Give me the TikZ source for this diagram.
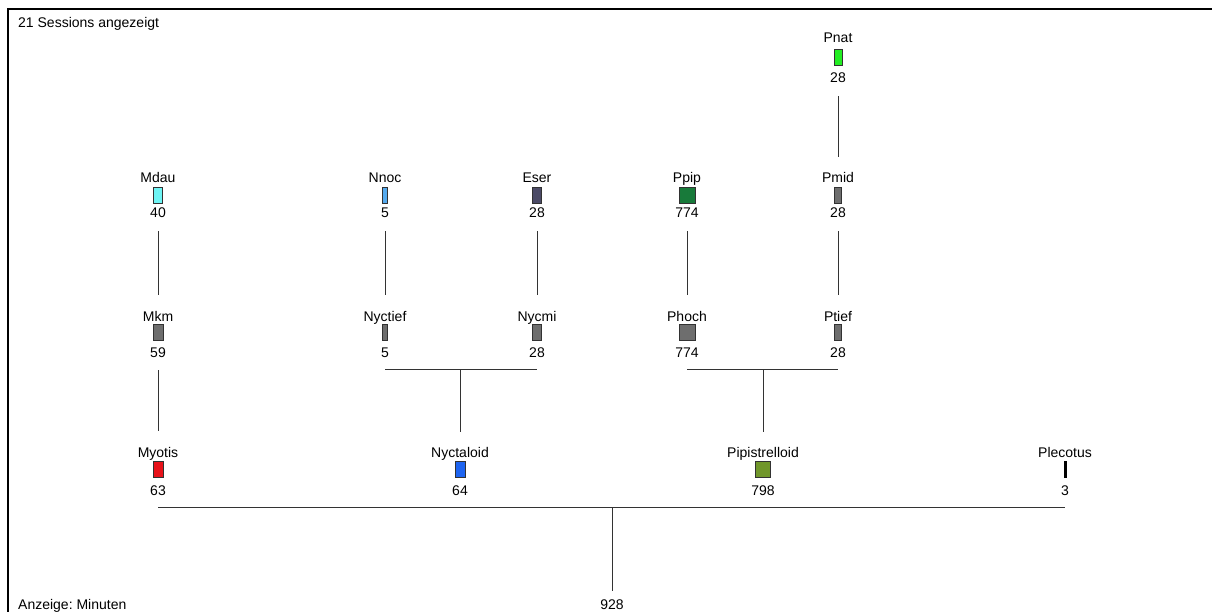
\documentclass[tikz,border=0pt]{standalone}
\usepackage{fontspec}
\setmainfont{Liberation Sans}
\frenchspacing
\definecolor{cMyo}{RGB}{232,18,26}
\definecolor{cNyc}{RGB}{30,100,240}
\definecolor{cPip}{RGB}{112,150,42}
\definecolor{cMdau}{RGB}{110,245,245}
\definecolor{cNnoc}{RGB}{85,170,238}
\definecolor{cEser}{RGB}{75,74,102}
\definecolor{cPpip}{RGB}{24,122,58}
\definecolor{cPnat}{RGB}{34,238,34}
\definecolor{cGray}{RGB}{110,110,110}
\definecolor{cEdge}{RGB}{50,50,50}
\begin{document}
\begin{tikzpicture}[x=1pt,y=-1pt,
  txt/.style={font=\fontsize{14}{16}\selectfont, anchor=base, inner sep=0pt,
              text height=10pt, text depth=0pt, text=black},
  cornertxt/.style={txt, anchor=base west},
  bar/.style={draw=cEdge, line width=0.7pt, inner sep=0pt, minimum height=16pt, minimum width=#1},
  bar/.default=9pt,
  link/.style={draw=black!80, line width=0.8pt},
  vlink/.style={link, shorten <=13pt, shorten >=16pt},
  frame/.style={draw=black, line width=1.3pt}]
\useasboundingbox (0,0) rectangle (1212,612);
\draw[frame] (8,612) -- (8,9) -- (1212,9);

\node[cornertxt] (sessions) at (18,28) {21 Sessions angezeigt};
\node[cornertxt] (anzeige) at (18,609) {Anzeige: Minuten};

% ---- row 1
\node[txt] (pnatL) at (838,43) {Pnat};
\node[bar=8pt, fill=cPnat] (pnat) at (838,57.5) {};
\node[txt] (pnatN) at (838,83) {28};

% ---- row 2
\node[txt] (mdauL) at (158,183) {Mdau};
\node[bar=9.5pt, fill=cMdau] (mdau) at (158,195) {};
\node[txt] (mdauN) at (158,218) {40};

\node[txt] (nnocL) at (385,183) {Nnoc};
\node[bar=5pt, fill=cNnoc] (nnoc) at (385,195) {};
\node[txt] (nnocN) at (385,218) {5};

\node[txt] (eserL) at (537,183) {Eser};
\node[bar=9pt, fill=cEser] (eser) at (537,195) {};
\node[txt] (eserN) at (537,218) {28};

\node[txt] (ppipL) at (687,183) {Ppip};
\node[bar=16pt, fill=cPpip] (ppip) at (687,195) {};
\node[txt] (ppipN) at (687,218) {774};

\node[txt] (pmidL) at (838,183) {Pmid};
\node[bar=7pt, fill=cGray] (pmid) at (838,195) {};
\node[txt] (pmidN) at (838,218) {28};

% ---- row 3
\node[txt] (mkmL) at (158,321) {Mkm};
\node[bar=10pt, fill=cGray] (mkm) at (158,332.5) {};
\node[txt] (mkmN) at (158,357) {59};

\node[txt] (nyctiefL) at (385,321) {Nyctief};
\node[bar=5pt, fill=cGray] (nyctief) at (385,332.5) {};
\node[txt] (nyctiefN) at (385,357) {5};

\node[txt] (nycmiL) at (537,321) {Nycmi};
\node[bar=9pt, fill=cGray] (nycmi) at (537,332.5) {};
\node[txt] (nycmiN) at (537,357) {28};

\node[txt] (phochL) at (687,321) {Phoch};
\node[bar=16pt, fill=cGray] (phoch) at (687,332.5) {};
\node[txt] (phochN) at (687,357) {774};

\node[txt] (ptiefL) at (838,321) {Ptief};
\node[bar=7pt, fill=cGray] (ptief) at (838,332.5) {};
\node[txt] (ptiefN) at (838,357) {28};

% ---- row 4
\node[txt] (myotisL) at (158,457) {Myotis};
\node[bar=10pt, fill=cMyo] (myotis) at (158,469.5) {};
\node[txt] (myotisN) at (158,495) {63};

\node[txt] (nyctaloidL) at (460,457) {Nyctaloid};
\node[bar=10pt, fill=cNyc] (nyctaloid) at (460,469.5) {};
\node[txt] (nyctaloidN) at (460,495) {64};

\node[txt] (pipL) at (763,457) {Pipistrelloid};
\node[bar=15pt, fill=cPip] (pip) at (763,469.5) {};
\node[txt] (pipN) at (763,495) {798};

\node[txt] (plecL) at (1065,457) {Plecotus};
\node[draw=black, fill=black, inner sep=0pt, minimum width=2.5pt, minimum height=16pt] (plec) at (1065,469.5) {};
\node[txt] (plecN) at (1065,495) {3};

% ---- root
\node[txt] (rootN) at (612,609) {928};

% ---- connectors
\draw[vlink] (pnatN.south) -- (pmidL.north);
\draw[vlink] (pmidN.south) -- (ptiefL.north);
\draw[vlink] (mdauN.south) -- (mkmL.north);
\draw[vlink] (mkmN.south) -- (myotisL.north);
\draw[vlink] (nnocN.south) -- (nyctiefL.north);
\draw[vlink] (eserN.south) -- (nycmiL.north);
\draw[vlink] (ppipN.south) -- (phochL.north);

\coordinate (jNyc) at (460,369);
\draw[link] (jNyc -| nyctiefN) -- (jNyc -| nycmiN);
\draw[link, shorten >=15pt] (jNyc) -- (nyctaloidL.north);

\coordinate (jPip) at (763,369);
\draw[link] (jPip -| phochN) -- (jPip -| ptiefN);
\draw[link, shorten >=15pt] (jPip) -- (pipL.north);

\coordinate (jRoot) at (612,507);
\draw[link] (jRoot -| myotisN) -- (jRoot -| plecN);
\draw[link, shorten >=8pt] (jRoot) -- (rootN.north);
\end{tikzpicture}
\end{document}
